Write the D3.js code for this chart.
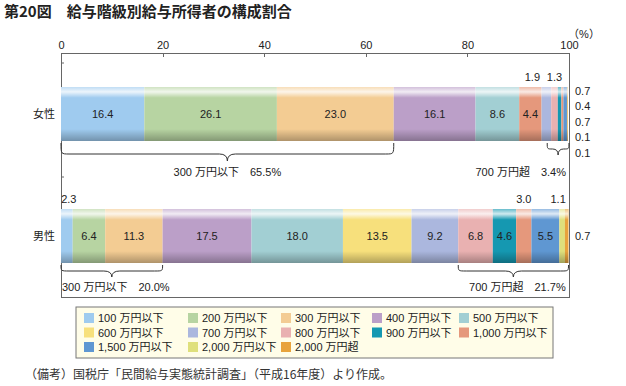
<!DOCTYPE html>
<head>
<meta charset="utf-8">
</head>
<style>
  body { margin: 0; background: #fff; }
  svg { font-family: "Liberation Sans", "Noto Sans CJK JP", sans-serif; }
  .axis path, .axis line { stroke: #666; shape-rendering: crispEdges; }
  .axis text { font-size: 11px; fill: #222; }
</style>
<body>
<script src="https://d3js.org/d3.v7.min.js"></script>
<script>

// data
var groups = ["女性", "男性"]
var brackets = ["100万円以下", "200万円以下", "300万円以下", "400万円以下", "500万円以下",
                "600万円以下", "700万円以下", "800万円以下", "900万円以下", "1,000万円以下",
                "1,500万円以下", "2,000万円以下", "2,000万円超"]
var female = [16.4, 26.1, 23.0, 16.1, 8.6, 4.4, 1.9, 1.3, 0.7, 0.4, 0.7, 0.1, 0.1]
var male   = [2.3, 6.4, 11.3, 17.5, 18.0, 13.5, 9.2, 6.8, 4.6, 3.0, 5.5, 1.1, 0.7]
var xTicks = [0, 20, 40, 60, 80, 100]
// brace groups: [group, first bracket index, last bracket index, label, share]
var braces = [
  ["女性", 0, 2, "300万円以下", "65.5%"],
  ["女性", 7, 12, "700万円超", "3.4%"],
  ["男性", 0, 2, "300万円以下", "20.0%"],
  ["男性", 7, 12, "700万円超", "21.7%"]
]

var colors = ["#9fcbef", "#b7d4a2", "#f3cc93", "#bb9fc8", "#a2cfd3",
              "#f7e07c", "#abb7de", "#e9b1b1", "#1598b1", "#e5987c",
              "#5f97d2", "#dfe07c", "#e8a33c"]
var color = d3.scaleOrdinal().domain(brackets).range(colors)

var W = 626, H = 386
var svg = d3.select("body").append("svg").attr("width", W).attr("height", H)

var x = d3.scaleLinear().domain([0, 100]).range([61, 569])
var y = d3.scalePoint().domain(groups).range([53, 297]).padding(0.5)
var barH = 54

// glossy overlay
var defs = svg.append("defs")
var grad = defs.append("linearGradient").attr("id", "gloss").attr("x1", 0).attr("y1", 0).attr("x2", 0).attr("y2", 1)
grad.append("stop").attr("offset", "0%").attr("stop-color", "#fff").attr("stop-opacity", 0.35)
grad.append("stop").attr("offset", "9%").attr("stop-color", "#fff").attr("stop-opacity", 0.8)
grad.append("stop").attr("offset", "20%").attr("stop-color", "#fff").attr("stop-opacity", 0)
grad.append("stop").attr("offset", "78%").attr("stop-color", "#000").attr("stop-opacity", 0)
grad.append("stop").attr("offset", "100%").attr("stop-color", "#000").attr("stop-opacity", 0.28)

// title
svg.append("text").attr("x", 4).attr("y", 17)
  .style("font-family", "'Noto Sans CJK JP', sans-serif").style("font-size", "15px").style("font-weight", "bold")
  .attr("fill", "#222").text("第20図　給与階級別給与所得者の構成割合")

// frame
svg.append("rect").attr("x", x(0)).attr("y", 53).attr("width", x(100) - x(0)).attr("height", 244)
  .attr("fill", "none").attr("stroke", "#666").style("shape-rendering", "crispEdges")

var xAxis = d3.axisTop(x).tickValues(xTicks).tickSizeInner(-4).tickSizeOuter(0).tickPadding(4)
svg.append("g").attr("class", "axis").attr("transform", "translate(0,53)").call(xAxis)
  .select(".domain").remove()

svg.append("text").attr("x", 584).attr("y", 38).attr("text-anchor", "middle")
  .style("font-size", "11px").attr("fill", "#222").text("（%）")

// little ticks on the left side
;[63, 177].forEach(function(t) {
  svg.append("line").attr("x1", x(0)).attr("x2", x(0) + 3).attr("y1", t).attr("y2", t)
    .attr("stroke", "#666")
})

// group labels
svg.selectAll(".glabel").data(groups).enter().append("text")
  .attr("x", 55).attr("y", function(d) { return y(d) }).attr("dy", "0.35em")
  .attr("text-anchor", "end").style("font-family", "'Noto Sans CJK JP', sans-serif")
  .style("font-size", "11px").attr("fill", "#222").text(function(d) { return d })

var series = { "女性": female, "男性": male }

groups.forEach(function(g) {
  var vals = series[g]
  var start = 0
  var segs = vals.map(function(v, i) {
    var s = { key: brackets[i], v: v, x0: start, x1: start + v }
    start += v
    return s
  })
  var top = y(g) - barH / 2
  var gg = svg.append("g")

  gg.selectAll("rect.seg").data(segs).enter().append("rect")
    .attr("class", "seg")
    .attr("x", function(d) { return x(d.x0) })
    .attr("width", function(d) { return x(d.x1) - x(d.x0) })
    .attr("y", top).attr("height", barH)
    .attr("fill", function(d) {
      // the source chart paints the women's 600 segment in the 1,000 colour
      if (g == "女性" && d.key == "600万円以下") return color("1,000万円以下")
      return color(d.key)
    })

  gg.append("rect").attr("x", x(0)).attr("width", x(start) - x(0))
    .attr("y", top).attr("height", barH).attr("fill", "url(#gloss)")

  // labels inside
  gg.selectAll("text.in").data(segs.filter(function(d) { return d.v >= 4 })).enter().append("text")
    .attr("x", function(d) { return (x(d.x0) + x(d.x1)) / 2 })
    .attr("y", y(g)).attr("dy", "0.35em").attr("text-anchor", "middle")
    .style("font-size", "11px").attr("fill", "#222")
    .text(function(d) { return d.v.toFixed(1) })

  // labels above
  var above = segs.filter(function(d) { return d.v >= 1 && d.v < 4 })
  gg.selectAll("text.up").data(above).enter().append("text")
    .attr("x", function(d, i) {
      var cx = (x(d.x0) + x(d.x1)) / 2
      if (g == "女性" && i == 0) cx -= 14
      if (g == "男性" && i == 0) cx += 2
      if (g == "男性" && i == 2) cx -= 4
      return cx
    })
    .attr("y", top - 6).attr("text-anchor", "middle")
    .style("font-size", "11px").attr("fill", "#222")
    .text(function(d) { return d.v.toFixed(1) })

  // labels to the right
  var right = segs.filter(function(d) { return d.v < 1 })
  var rStart = right.length > 1 ? top + 4 : y(g)
  gg.selectAll("text.r").data(right).enter().append("text")
    .attr("x", 575).attr("y", function(d, i) { return rStart + i * 15.5 })
    .attr("dy", "0.35em").style("font-size", "11px").attr("fill", "#222")
    .text(function(d) { return d.v.toFixed(1) })
})

function bracePath(x0, x1, y0, h, t) {
  var m = (x0 + x1) / 2, r = Math.min(8, (x1 - x0) / 4)
  return "M" + x0 + "," + y0 +
    "C" + x0 + "," + (y0 + h) + " " + x0 + "," + (y0 + h) + " " + (x0 + r) + "," + (y0 + h) +
    "L" + (m - r) + "," + (y0 + h) +
    "Q" + m + "," + (y0 + h) + " " + m + "," + (y0 + h + t) +
    "Q" + m + "," + (y0 + h) + " " + (m + r) + "," + (y0 + h) +
    "L" + (x1 - r) + "," + (y0 + h) +
    "C" + x1 + "," + (y0 + h) + " " + x1 + "," + (y0 + h) + " " + x1 + "," + y0
}

braces.forEach(function(b) {
  var vals = series[b[0]]
  var a = d3.sum(vals.slice(0, b[1])), z = d3.sum(vals.slice(0, b[2] + 1))
  var x0 = x(a), x1 = x(z)
  var bottom = y(b[0]) + barH / 2
  var small = (x1 - x0) < 30
  var isF = b[0] == "女性"
  if (small) { x0 -= 4; x1 += 1 }
  var h = isF ? (small ? 6 : 11) : 6
  var t = isF ? (small ? 6 : 7) : 6
  svg.append("path").attr("d", bracePath(x0, x1, bottom + 2, h, t))
    .attr("fill", "none").attr("stroke", "#333").attr("stroke-width", 1)
  var ly = isF ? bottom + 31 : bottom + 24
  svg.append("text")
    .attr("x", small ? x1 - 3 : (x0 + x1) / 2 + (isF ? 0 : 4))
    .attr("y", ly).attr("dy", "0.35em")
    .attr("text-anchor", small ? "end" : "middle")
    .style("font-size", "11px").attr("fill", "#222")
    .text(b[3].replace("万", " 万") + "　" + b[4])
})

// legend
var lg = svg.append("g")
lg.append("rect").attr("x", 76).attr("y", 307).attr("width", 477).attr("height", 51)
  .attr("fill", "#fffde8").attr("stroke", "#777")
var colX = [84, 188, 281, 372, 459]
var item = lg.selectAll(".legend").data(brackets).enter().append("g")
  .attr("transform", function(d, i) {
    return "translate(" + colX[i % 5] + "," + (318 + Math.floor(i / 5) * 14.5) + ")"
  })
item.append("rect").attr("x", 0).attr("y", -5).attr("width", 10).attr("height", 10)
  .attr("fill", function(d) { return color(d) })
item.append("text").attr("x", 14).attr("dy", "0.38em")
  .style("font-size", "11px").attr("fill", "#222")
  .text(function(d) { return d.replace("万", " 万") })

// note
svg.append("text").attr("x", 25).attr("y", 379)
  .style("font-family", "'Noto Sans CJK JP', serif").style("font-size", "12px").attr("fill", "#333")
  .text("（備考）国税庁「民間給与実態統計調査」（平成16年度）より作成。")

</script>
</body>
